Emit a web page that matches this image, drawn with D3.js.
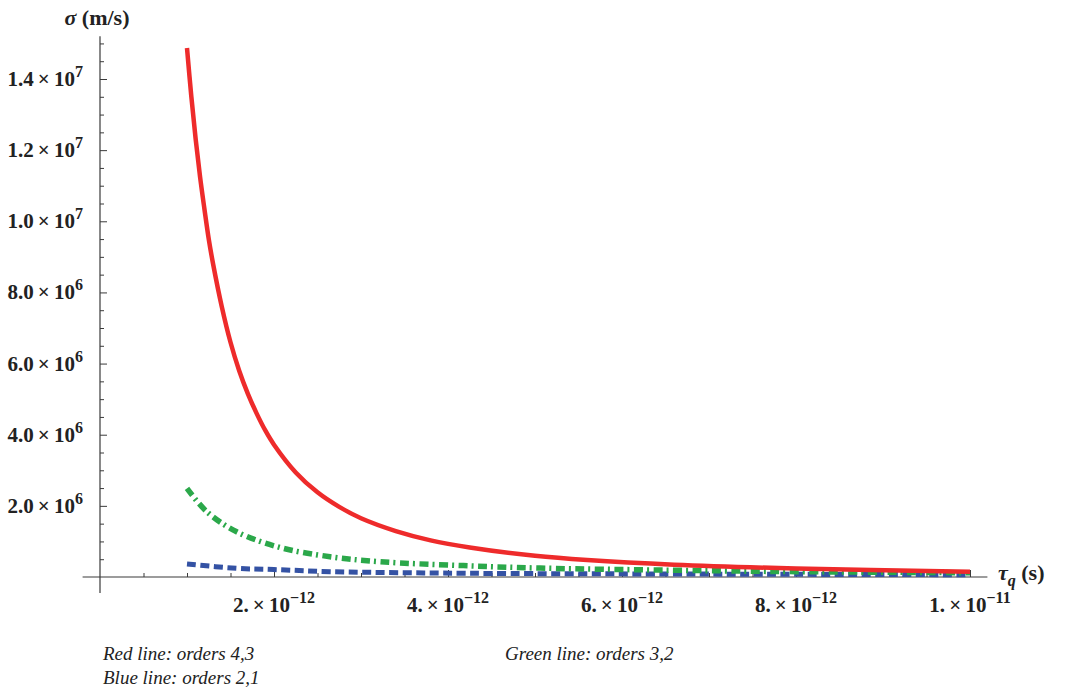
<!DOCTYPE html>
<html>
<head>
<meta charset="utf-8">
<script src="https://cdn.jsdelivr.net/npm/d3@7"></script>
<style>
  body { margin: 0; background: #fff; }
  text { font-family: "Liberation Serif", "DejaVu Serif", serif; }
</style>
</head>
<body>
<div class="canva"></div>
<script>
// tau in units of 1e-12 s, sigma in units of 1e6 m/s
const tauRed = [1.0, 1.05, 1.1, 1.15, 1.2, 1.25, 1.3, 1.4, 1.5, 1.6, 1.7, 1.8, 1.9, 2.0, 2.25, 2.5, 2.75, 3.0, 3.4, 3.8, 4.25, 5.0, 5.6, 6.6, 8.0, 10.0];
const sigmaRed = [14.87, 13.5, 12.3, 11.25, 10.35, 9.5, 8.8, 7.6, 6.6, 5.8, 5.15, 4.6, 4.12, 3.72, 2.94, 2.38, 1.97, 1.65, 1.29, 1.03, 0.83, 0.595, 0.475, 0.345, 0.24, 0.15];

const tauGreen = [1.0, 1.226, 1.571, 2.069, 2.644, 3.218, 4.176, 5.06, 6.59, 8.0, 10.0];
const sigmaGreen = [2.49, 1.84, 1.27, 0.83, 0.57, 0.43, 0.32, 0.25, 0.19, 0.15, 0.12];

const tauBlue = [1.0, 1.571, 2.0, 2.644, 3.5, 4.5, 6.5, 8.0, 10.0];
const sigmaBlue = [0.365, 0.245, 0.21, 0.15, 0.12, 0.10, 0.085, 0.075, 0.065];

const xMajor = [2, 4, 6, 8, 10];
const xLabels = [["2.", "\u221212"], ["4.", "\u221212"], ["6.", "\u221212"], ["8.", "\u221212"], ["1.", "\u221211"]];
const yMajor = [2, 4, 6, 8, 10, 12, 14];
const yLabels = [["2.0", "6"], ["4.0", "6"], ["6.0", "6"], ["8.0", "6"], ["1.0", "7"], ["1.2", "7"], ["1.4", "7"]];

const legendLines = ["Red line: orders 4,3", "Blue line: orders 2,1", "Green line: orders 3,2"];

const svg = d3.select(".canva").append("svg")
    .attr("width", 1066)
    .attr("height", 692);

const x = d3.scaleLinear().domain([0, 10]).range([100, 970]);
const y = d3.scaleLinear().domain([0, 14]).range([577, 79]);

const axisColor = "#3a3a3a";

// axis lines
svg.append("line")
    .attr("x1", x(-0.2)).attr("x2", x(10.2))
    .attr("y1", y(0)).attr("y2", y(0))
    .attr("stroke", axisColor).attr("stroke-width", 1.2);
svg.append("line")
    .attr("x1", x(0)).attr("x2", x(0))
    .attr("y1", y(-0.45)).attr("y2", y(15.2))
    .attr("stroke", axisColor).attr("stroke-width", 1.2);

// ticks
const xMinor = d3.range(0.5, 10.01, 0.5).filter(v => xMajor.indexOf(v) < 0);
const yMinor = d3.range(0.5, 15.01, 0.5).filter(v => yMajor.indexOf(v) < 0);

function drawAxis(axis) {
    const g = svg.append("g").call(axis);
    g.select(".domain").remove();
    g.selectAll(".tick line").attr("stroke", axisColor).attr("stroke-width", 1);
    g.selectAll(".tick text").remove();
    return g;
}

drawAxis(d3.axisBottom(x).tickValues(xMinor).tickSize(-4))
    .attr("transform", `translate(0, ${y(0)})`);
drawAxis(d3.axisBottom(x).tickValues(xMajor).tickSize(-7))
    .attr("transform", `translate(0, ${y(0)})`);
drawAxis(d3.axisLeft(y).tickValues(yMinor).tickSize(-4))
    .attr("transform", `translate(${x(0)}, 0)`);
drawAxis(d3.axisLeft(y).tickValues(yMajor).tickSize(-7))
    .attr("transform", `translate(${x(0)}, 0)`);

// tick labels
xMajor.forEach((v, i) => {
    const t = svg.append("text")
        .attr("x", x(v))
        .attr("y", 612)
        .attr("text-anchor", "middle")
        .style("font-size", "21px")
        .style("font-weight", "bold")
        .style("fill", "#222");
    t.append("tspan").text(xLabels[i][0] + "\u2009\u00d7\u200910");
    t.append("tspan").attr("dy", "-9").style("font-size", "16px").text(xLabels[i][1]);
});

yMajor.forEach((v, i) => {
    const t = svg.append("text")
        .attr("x", 83)
        .attr("y", y(v) + 7)
        .attr("text-anchor", "end")
        .style("font-size", "21px")
        .style("font-weight", "bold")
        .style("fill", "#222");
    t.append("tspan").text(yLabels[i][0] + "\u2009\u00d7\u200910");
    t.append("tspan").attr("dy", "-9").style("font-size", "16px").text(yLabels[i][1]);
});

// axis titles
const yTitle = svg.append("text")
    .attr("x", 97).attr("y", 25)
    .attr("text-anchor", "middle")
    .style("font-size", "22px")
    .style("font-weight", "bold")
    .style("fill", "#222");
yTitle.append("tspan").style("font-style", "italic").text("\u03c3");
yTitle.append("tspan").text(" (m/s)");

const xTitle = svg.append("text")
    .attr("x", 998).attr("y", 580)
    .style("font-size", "22px")
    .style("font-weight", "bold")
    .style("fill", "#222");
xTitle.append("tspan").style("font-style", "italic").text("\u03c4");
xTitle.append("tspan").attr("dy", "6").style("font-style", "italic").style("font-size", "16px").text("q");
xTitle.append("tspan").attr("dy", "-6").text(" (s)");

// curves
const line = d3.line()
    .x(d => x(d[0]))
    .y(d => y(d[1]))
    .curve(d3.curveCatmullRom.alpha(0.5));

const series = [
    {tau: tauBlue, sigma: sigmaBlue, color: "#3452a4", width: 5, dash: "9,4.5"},
    {tau: tauGreen, sigma: sigmaGreen, color: "#2ba84a", width: 5.5, dash: "9,4,2,4.5"},
    {tau: tauRed, sigma: sigmaRed, color: "#ee2b2b", width: 4.5, dash: null}
];

svg.selectAll(".curve")
    .data(series)
    .enter()
    .append("path")
    .attr("class", "curve")
    .attr("d", d => line(d.tau.map((t, i) => [t, d.sigma[i]])))
    .attr("fill", "none")
    .attr("stroke", d => d.color)
    .attr("stroke-width", d => d.width)
    .attr("stroke-dasharray", d => d.dash);

// legend notes
const legendPos = [[103, 660], [103, 684], [505, 660]];
svg.selectAll(".note")
    .data(legendLines)
    .enter()
    .append("text")
    .attr("class", "note")
    .attr("x", (d, i) => legendPos[i][0])
    .attr("y", (d, i) => legendPos[i][1])
    .style("font-size", "19px")
    .style("font-style", "italic")
    .style("fill", "#222")
    .text(d => d);
</script>
</body>
</html>
